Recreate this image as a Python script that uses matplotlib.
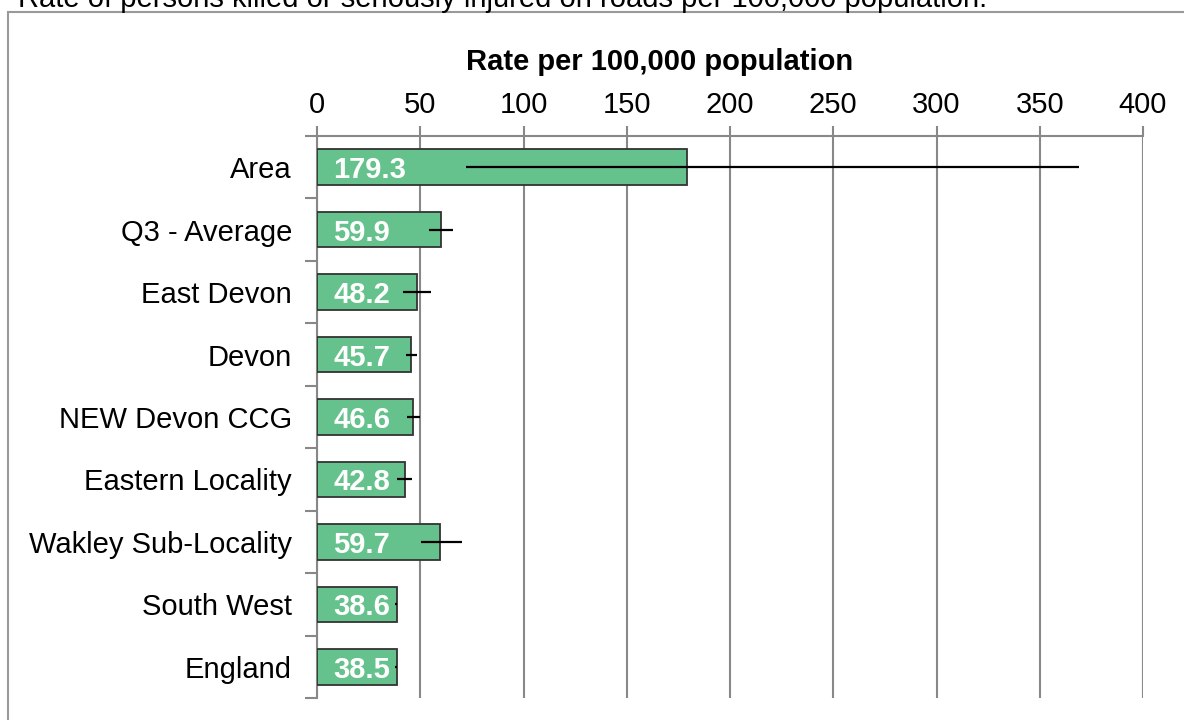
import matplotlib.pyplot as plt
import numpy as np
from matplotlib.patches import Rectangle

plt.rcParams['font.family'] = ['Liberation Sans', 'DejaVu Sans']

areas = ['Area', 'Q3 - Average', 'East Devon', 'Devon', 'NEW Devon CCG',
         'Eastern Locality', 'Wakley Sub-Locality', 'South West', 'England']
rates = [179.3, 59.9, 48.2, 45.7, 46.6, 42.8, 59.7, 38.6, 38.5]
ci_low = [72.2, 54.2, 41.6, 43.1, 43.6, 38.7, 50.2, 37.8, 37.9]
ci_high = [369.0, 65.9, 55.2, 48.4, 49.9, 46.0, 70.2, 38.6, 38.5]
xticks = [0, 50, 100, 150, 200, 250, 300, 350, 400]

W, H = 1184, 720
fig = plt.figure(figsize=(11.84, 7.2), dpi=100)

# outer frame
fig.patches.append(Rectangle((8 / W, -0.1), 1.2, 1 - 12 / H + 0.1, transform=fig.transFigure,
                             fill=False, edgecolor='#999999', linewidth=1.5))
fig.text(18 / W, 1 - 7 / H,
         'Rate of persons killed or seriously injured on roads per 100,000 population.',
         fontsize=21, va='baseline', ha='left')

ax = fig.add_axes([317 / W, 1 - 698 / H, (1143 - 317) / W, (698 - 136) / H])

y = np.arange(len(areas))
xerr = [np.array(rates) - np.array(ci_low), np.array(ci_high) - np.array(rates)]
ax.barh(y, rates, height=0.57, color='#66C28C', edgecolor='#333333', linewidth=1.3, zorder=3)
ax.errorbar(rates, y, xerr=xerr, fmt='none', ecolor='black', elinewidth=1.6, capsize=0, zorder=4)

for yi, v in zip(y, rates):
    ax.text(8, yi, '{:.1f}'.format(v), color='white', fontsize=21, fontweight='bold',
            va='center_baseline', ha='left', zorder=5)

ax.set_xlim(0, 400)
ax.set_ylim(len(areas) - 0.5, -0.5)
ax.set_xticks(xticks)
ax.xaxis.tick_top()
ax.xaxis.set_label_position('top')
ax.set_xlabel('Rate per 100,000 population', fontsize=21, fontweight='bold')
ax.xaxis.set_label_coords((660 - 317) / 826, 1 + (136 - 70) / 562)
ax.tick_params(axis='x', top=True, bottom=False, length=7, width=1.5, color='#888888',
               labelsize=21, pad=5)

ax.set_yticks(y)
ax.set_yticklabels(areas, fontsize=21)
ax.set_yticks(np.arange(len(areas) + 1) - 0.5, minor=True)
ax.tick_params(axis='y', which='major', length=0, pad=18)
ax.tick_params(axis='y', which='minor', length=9, width=1.5, color='#888888')

ax.grid(axis='x', color='#888888', linewidth=1.5, zorder=0)
ax.set_axisbelow(True)
for s in ['right', 'bottom']:
    ax.spines[s].set_visible(False)
for s in ['left', 'top']:
    ax.spines[s].set_color('#888888')
    ax.spines[s].set_linewidth(1.5)

fig.savefig('out.png', dpi=100)
